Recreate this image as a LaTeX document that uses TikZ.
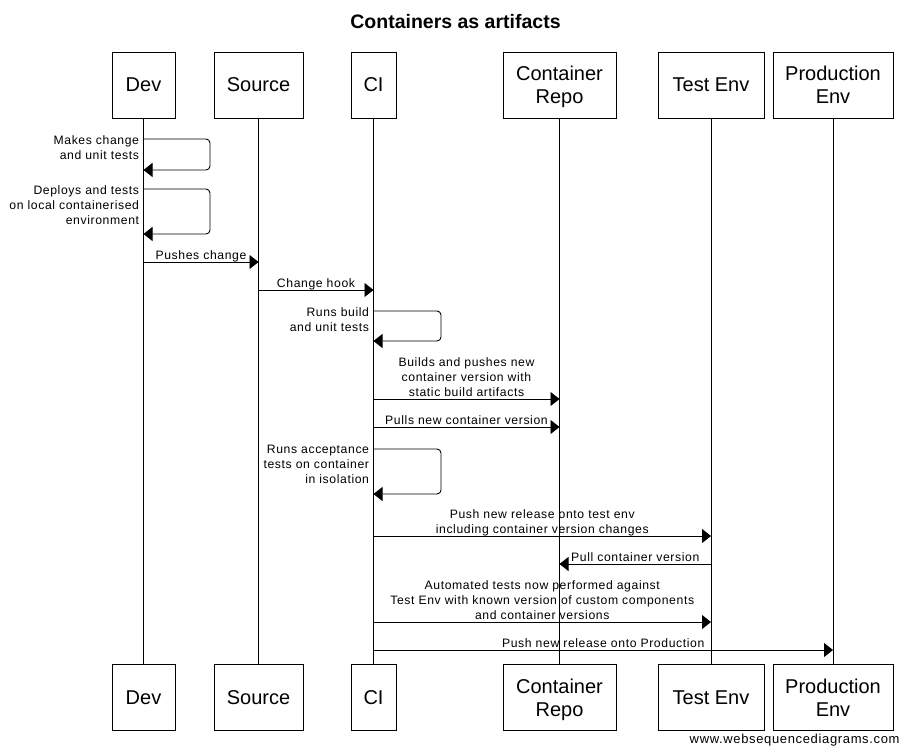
\documentclass[tikz,border=0pt]{standalone}
\usepackage{fontspec}
\setmainfont{Liberation Sans}
\newfontfamily\msgfont[LetterSpace=5]{Liberation Sans}
\usetikzlibrary{arrows.meta}

\begin{document}
\begin{tikzpicture}[x=1pt,y=-1pt,line width=0.9pt]
    \tikzstyle{every node}+=[inner sep=0pt]
    \tikzstyle{actor}=[draw, minimum height=66pt, align=center, font=\fontsize{20}{23}\selectfont]
    \tikzstyle{actor2}=[actor, text depth=0pt]
    \tikzstyle{msg}=[-{Triangle[length=9pt,width=14pt]}]
    \tikzstyle{lbl}=[anchor=north, align=center, font=\msgfont\fontsize{12.2}{15}\selectfont]
    \tikzstyle{note}=[anchor=north east, align=right, font=\msgfont\fontsize{12.2}{15}\selectfont]
    \useasboundingbox (0,0) rectangle (909,755);
    \node (title) at (455.5,21.5) {\bfseries\fontsize{19.5}{23}\selectfont Containers as artifacts};
    \node [actor, minimum width=63pt] (devT) at (143.5,85) {Dev};
    \node [actor, minimum width=89pt] (srcT) at (258.5,85) {Source};
    \node [actor, minimum width=45pt] (ciT) at (373.5,85) {CI};
    \node [actor2, minimum width=113pt] (repoT) at (559.5,85) {Container\\Repo};
    \node [actor, minimum width=106pt] (testT) at (711,85) {Test Env};
    \node [actor2, minimum width=120pt] (prodT) at (833,85) {Production\\Env};
    \node [actor, minimum width=63pt] (devB) at (143.5,697.5) {Dev};
    \node [actor, minimum width=89pt] (srcB) at (258.5,697.5) {Source};
    \node [actor, minimum width=45pt] (ciB) at (373.5,697.5) {CI};
    \node [actor2, minimum width=113pt] (repoB) at (559.5,697.5) {Container\\Repo};
    \node [actor, minimum width=106pt] (testB) at (711,697.5) {Test Env};
    \node [actor2, minimum width=120pt] (prodB) at (833,697.5) {Production\\Env};
    \draw (devT) -- (devB);
    \draw (srcT) -- (srcB);
    \draw (ciT) -- (ciB);
    \draw (repoT) -- (repoB);
    \draw (testT) -- (testB);
    \draw (prodT) -- (prodB);
    % Dev
    \draw [msg, rounded corners=4pt] (devT |- 0,139) -- (210,139) -- (210,170) -- (devT |- 0,170);
    \node [note] (n1) at (139.5,134.9) {Makes change\\and unit tests};
    \draw [msg, rounded corners=4pt] (devT |- 0,189) -- (210,189) -- (210,234) -- (devT |- 0,234);
    \node [note] (n2) at (139.5,184.9) {Deploys and tests\\on local containerised\\environment};
    \draw [msg] (devT |- 0,262) -- (srcT |- 0,262);
    \node [lbl] (m1) at (201,250.4) {Pushes change};
    \draw [msg] (srcT |- 0,290) -- (ciT |- 0,290);
    \node [lbl] (m2) at (316,278.4) {Change hook};
    % CI
    \draw [msg, rounded corners=4pt] (ciT |- 0,311) -- (441,311) -- (441,341) -- (ciT |- 0,341);
    \node [note] (n3) at (369.5,306.9) {Runs build\\and unit tests};
    \draw [msg] (ciT |- 0,399) -- (repoT |- 0,399);
    \node [lbl] (m3) at (466.5,357.4) {Builds and pushes new\\container version with\\static build artifacts};
    \draw [msg] (ciT |- 0,427) -- (repoT |- 0,427);
    \node [lbl] (m4) at (466.5,415.4) {Pulls new container version};
    \draw [msg, rounded corners=4pt] (ciT |- 0,449) -- (441,449) -- (441,494) -- (ciT |- 0,494);
    \node [note] (n4) at (369.5,444.9) {Runs acceptance\\tests on container\\in isolation};
    \draw [msg] (ciT |- 0,536) -- (testT |- 0,536);
    \node [lbl] (m5) at (542.25,509.4) {Push new release onto test env\\including container version changes};
    \draw [msg] (testT |- 0,564) -- (repoT |- 0,564);
    \node [lbl] (m6) at (635.25,552.4) {Pull container version};
    \draw [msg] (ciT |- 0,622) -- (testT |- 0,622);
    \node [lbl] (m7) at (542.25,580.4) {Automated tests now performed against\\Test Env with known version of custom components\\and container versions};
    \draw [msg] (ciT |- 0,650) -- (prodT |- 0,650);
    \node [lbl] (m8) at (603.25,638.4) {Push new release onto Production};
    \node [anchor=east, font=\msgfont\fontsize{13}{15}\selectfont] (site) at (900,740) {www.websequencediagrams.com};
\end{tikzpicture}
\end{document}
